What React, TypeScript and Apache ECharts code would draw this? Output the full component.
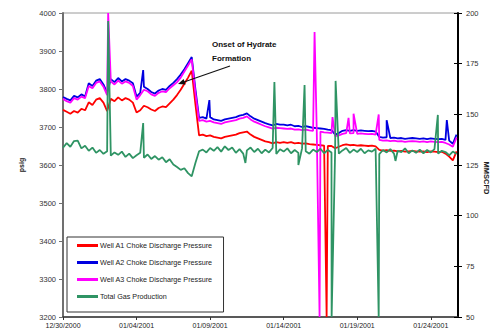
import React, { useEffect, useRef } from "react";
import * as echarts from "echarts";

// sampling step of the base traces (days after 12/30/2000)
const STEP_DAYS = 0.25;
const X_MAX = 26.85;
const xTickLabels = ["12/30/2000", "01/04/2001", "01/09/2001", "01/14/2001", "01/19/2001", "01/24/2001"];
const seriesNames = [
  "Well A1 Choke Discharge Pressure",
  "Well A2 Choke Discharge Pressure",
  "Well A3 Choke Discharge Pressure",
  "Total Gas Production",
];

// Well A1 (psig)
const wellA1 = [
  3745, 3740, 3735, 3742, 3738, 3748, 3744, 3765, 3758, 3772, 3776, 3764, 3742, 3774, 3768, 3778, 3770, 3776, 3772, 3764,
  3738, 3744, 3756, 3752, 3746, 3742, 3750, 3754, 3752, 3762, 3772, 3784, 3798, 3814, 3830, 3848, 3760, 3678,
  3680, 3676, 3678, 3674, 3672, 3670, 3674, 3676, 3678, 3680, 3684, 3686, 3688, 3680, 3674, 3670, 3666, 3662, 3660, 3657,
  3660, 3658, 3660, 3658, 3660, 3657, 3658, 3656, 3657, 3655, 3654, 3653, 3652, 3651, 3650, 3650, 3644, 3648, 3652, 3654,
  3652, 3653, 3651, 3652, 3651, 3650, 3651, 3649, 3640, 3638, 3639, 3637, 3638, 3636, 3637, 3635, 3636, 3637, 3636, 3635,
  3636, 3634, 3636, 3635, 3634, 3635, 3630, 3622, 3612, 3636,
];
const wellA1Spikes = [[17.92, 3200]];

// Well A2 (psig)
const wellA2 = [
  3779, 3774, 3770, 3782, 3778, 3786, 3780, 3815, 3808, 3822, 3826, 3812, 3790, 3826, 3818, 3829, 3820, 3826, 3822, 3815,
  3780, 3790, 3806, 3800, 3792, 3788, 3796, 3800, 3798, 3808, 3816, 3826, 3838, 3852, 3868, 3884, 3800, 3724,
  3726, 3722, 3726, 3720, 3718, 3716, 3720, 3722, 3724, 3726, 3730, 3732, 3736, 3728, 3722, 3718, 3714, 3710, 3707, 3704,
  3708, 3706, 3706, 3704, 3706, 3702, 3703, 3700, 3702, 3700, 3698, 3697, 3696, 3695, 3693, 3692, 3680, 3684, 3690, 3692,
  3690, 3692, 3690, 3691, 3690, 3689, 3690, 3688, 3674, 3672, 3673, 3671, 3672, 3670, 3671, 3669, 3670, 3671, 3670, 3669,
  3670, 3668, 3670, 3669, 3668, 3669, 3666, 3664, 3656, 3680,
];
const wellA2Spikes = [[5.45, 3850], [9.95, 3771], [22.0, 3718], [26.09, 3718]];

// Well A3 (psig)
const wellA3 = [
  3774, 3768, 3764, 3776, 3772, 3780, 3776, 3808, 3802, 3816, 3820, 3806, 3784, 3820, 3812, 3822, 3814, 3820, 3816, 3808,
  3772, 3784, 3798, 3794, 3786, 3782, 3790, 3794, 3792, 3802, 3810, 3818, 3830, 3846, 3862, 3878, 3790, 3716,
  3718, 3714, 3716, 3712, 3710, 3708, 3712, 3714, 3716, 3718, 3722, 3724, 3728, 3720, 3714, 3710, 3706, 3702, 3699, 3696,
  3698, 3697, 3696, 3695, 3696, 3693, 3694, 3692, 3693, 3691, 3690, 3688, 3688, 3686, 3685, 3684, 3676, 3678, 3682, 3684,
  3683, 3684, 3682, 3683, 3682, 3681, 3682, 3680, 3666, 3664, 3665, 3663, 3664, 3662, 3663, 3661, 3662, 3663, 3662, 3661,
  3662, 3660, 3662, 3661, 3660, 3661, 3658, 3654, 3648, 3672,
];
const wellA3Spikes = [[3.07, 4000], [17.1, 3950], [17.44, 3200], [18.32, 3726], [19.41, 3724], [19.75, 3735], [21.46, 3733]];

// Total gas production (MMSCFD)
const totalGas = [
  133.5, 135.8, 134.0, 136.8, 137.0, 133.2, 134.5, 132.0, 133.6, 131.0, 132.4, 130.5, 131.8, 129.6, 131.2, 130.0, 131.6, 129.0, 130.6, 128.4,
  129.8, 131.0, 128.6, 130.2, 128.0, 129.4, 127.6, 128.8, 126.4, 127.8, 125.2, 124.0, 122.6, 123.4, 121.0, 119.4, 126.0, 131.8,
  132.6, 131.2, 133.4, 132.0, 133.8, 131.6, 134.2, 132.4, 133.6, 131.0, 132.8, 130.6, 132.2, 133.6, 131.4, 133.0, 130.8, 132.6, 131.2, 133.4,
  130.4, 132.8, 131.6, 133.2, 130.8, 132.4, 131.0, 133.2, 131.8, 130.6, 132.6, 131.4, 133.0, 130.8, 132.4, 131.2, 132.8, 130.6, 132.2, 133.4,
  131.0, 132.6, 131.4, 133.0, 130.8, 132.2, 131.6, 133.0, 130.4, 132.4, 131.2, 132.8, 130.6, 132.0, 131.4, 133.2, 130.8, 132.2, 131.0, 132.6,
  130.8, 132.4, 131.2, 132.8, 130.6, 132.0, 131.4, 129.8, 131.6, 130.4,
];
const totalGasSpikes = [
  [3.07, 196], [5.45, 145.7], [12.4, 126], [14.37, 166], [16.0, 125], [16.42, 164.5], [18.26, 50], [18.53, 166.5],
  [21.46, 50], [22.6, 127], [25.48, 149.7],
];

const colors = ["#ff0000", "#0000e0", "#ff00ff", "#2f9464"];

function build(base: number[], spikes: number[][]) {
  const pts = base.map((v, i) => [i * STEP_DAYS, v]);
  return pts.concat(spikes.map((s) => [s[0], s[1]])).sort((a, b) => a[0] - b[0]);
}

export default function App() {
  const ref = useRef<HTMLDivElement>(null);
  useEffect(() => {
    if (!ref.current) return;
    const chart = echarts.init(ref.current, null, { renderer: "svg" });
    const font = "Liberation Sans, Arial, sans-serif";
    const mk = (i: number, data: number[][], yAxisIndex: number) => ({
      name: seriesNames[i],
      type: "line",
      yAxisIndex,
      data,
      showSymbol: false,
      symbol: "none",
      color: colors[i],
      lineStyle: { width: 1.8, color: colors[i] },
      z: 2 + i,
    });
    chart.setOption({
      animation: false,
      backgroundColor: "#ffffff",
      grid: { left: 63, right: 34, top: 13, bottom: 16, show: true, borderColor: "#9a9a9a", borderWidth: 1 },
      legend: {
        orient: "vertical",
        left: 67,
        top: 237,
        padding: [5, 11, 12, 10],
        itemGap: 10,
        itemWidth: 21,
        itemHeight: 3,
        icon: "rect",
        backgroundColor: "#ffffff",
        borderColor: "#333333",
        borderWidth: 1,
        borderRadius: 0,
        textStyle: { fontFamily: font, fontSize: 7.2, color: "#222", padding: [0, 0, 0, -3] },
        data: seriesNames,
      },
      xAxis: {
        type: "value",
        min: 0,
        max: X_MAX,
        interval: 5,
        axisLine: { show: true, lineStyle: { color: "#333", width: 1.5 } },
        axisTick: { show: true, length: 3, lineStyle: { color: "#333" } },
        splitLine: { show: false },
        axisLabel: {
          fontFamily: font,
          fontSize: 7,
          color: "#222",
          margin: 5,
          showMaxLabel: false,
          formatter: (v: number) => xTickLabels[Math.round(v / 5)] ?? "",
        },
      },
      yAxis: [
        {
          type: "value",
          min: 3200,
          max: 4000,
          interval: 100,
          position: "left",
          name: "psig",
          nameLocation: "middle",
          nameGap: 38,
          nameTextStyle: { fontFamily: font, fontSize: 7, fontWeight: "bold", color: "#222" },
          axisLine: { show: true, lineStyle: { color: "#707070", width: 2 } },
          axisTick: { show: true, length: 4, lineStyle: { color: "#707070" } },
          splitLine: { show: false },
          axisLabel: { fontFamily: font, fontSize: 7.5, color: "#333", margin: 7, formatter: (v: number) => String(v) },
        },
        {
          type: "value",
          min: 50,
          max: 200,
          interval: 25,
          position: "right",
          axisLine: { show: true, lineStyle: { color: "#000", width: 2 } },
          axisTick: { show: true, length: 4, lineStyle: { color: "#000" } },
          splitLine: { show: false },
          axisLabel: { fontFamily: font, fontSize: 7.5, color: "#333", margin: 8, formatter: (v: number) => String(v) },
        },
        {
          type: "value",
          min: 50,
          max: 200,
          interval: 25,
          position: "right",
          axisLine: { show: false },
          axisTick: { show: true, inside: true, length: 4, lineStyle: { color: "#000" } },
          splitLine: { show: false },
          axisLabel: { show: false },
        },
      ],
      series: [
        mk(0, build(wellA1, wellA1Spikes), 0),
        mk(1, build(wellA2, wellA2Spikes), 0),
        mk(2, build(wellA3, wellA3Spikes), 0),
        mk(3, build(totalGas, totalGasSpikes), 1),
      ],
      graphic: [
        {
          type: "text",
          x: 486,
          y: 178,
          rotation: -Math.PI / 2,
          style: {
            text: "MMSCFD",
            x: 0,
            y: 0,
            align: "center",
            verticalAlign: "middle",
            font: "bold 7.5px Liberation Sans, Arial, sans-serif",
            fill: "#222",
          },
          silent: true,
        },
        {
          type: "text",
          left: 252 - 40,
          top: 37,
          style: {
            text: "Onset of Hydrate\nFormation",
            x: 0,
            y: 0,
            width: 80,
            align: "center",
            font: "bold 8px Liberation Sans, Arial, sans-serif",
            fill: "#111",
            lineHeight: 14,
          },
          silent: true,
        },
        {
          type: "line",
          shape: { x1: 230, y1: 66, x2: 184, y2: 82 },
          style: { stroke: "#111", lineWidth: 1.2 },
          silent: true,
          z: 100,
        },
        {
          type: "polygon",
          shape: { points: [[178, 84], [185.6, 84.5], [183.6, 78.9]] },
          style: { fill: "#111" },
          silent: true,
          z: 100,
        },
      ],
    });
    return () => chart.dispose();
  }, []);
  return <div ref={ref} style={{ position: "fixed", left: 0, top: 0, width: 492, height: 333 }} />;
}
